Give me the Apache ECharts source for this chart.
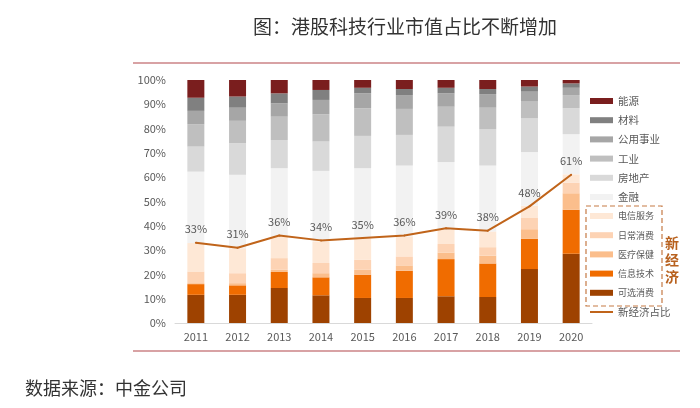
<!DOCTYPE html>
<html>
<head>
<meta charset="utf-8">
<script src="https://cdn.jsdelivr.net/npm/echarts@6/dist/echarts.min.js"></script>
<style>
html, body { margin: 0; padding: 0; background: #fff; }
#container { width: 700px; height: 408px; }
</style>
</head>
<body>
<div id="container"></div>
<script>
// 数据（单位：%）
var years = ['2011', '2012', '2013', '2014', '2015', '2016', '2017', '2018', '2019', '2020'];

// 新经济
var kexuan  = [11.6, 11.6, 14.4, 11.4, 10.3, 10.3, 11.0, 10.7, 22.2, 28.5]; // 可选消费
var xinxi   = [4.4, 3.9, 6.6, 7.4, 9.6, 11.2, 15.3, 13.8, 12.5, 18.1];     // 信息技术
var yiliao  = [0.4, 0.9, 0.9, 1.7, 2.0, 2.2, 2.7, 3.2, 3.9, 6.8];          // 医疗保健
var richang = [4.8, 4.1, 4.8, 4.2, 4.1, 3.7, 3.5, 3.5, 4.6, 4.4];          // 日常消费
var dianxin = [11.7, 10.3, 8.9, 8.9, 8.9, 8.2, 5.9, 6.5, 5.0, 3.4];        // 电信服务

// 传统行业
var jinrong  = [29.4, 30.2, 28.1, 29.0, 28.8, 29.2, 27.8, 27.1, 22.1, 16.5]; // 金融
var fangdc   = [10.3, 13.0, 11.6, 12.1, 13.3, 12.6, 14.6, 14.9, 13.9, 10.7]; // 房地产
var gongye   = [9.2, 9.2, 9.6, 11.2, 11.4, 10.7, 8.2, 8.9, 6.9, 5.4];       // 工业
var gongyong = [5.5, 5.4, 5.5, 5.9, 6.1, 5.7, 5.5, 5.6, 4.1, 3.0];         // 公用事业
var cailiao  = [5.4, 4.6, 4.1, 4.1, 2.3, 2.5, 2.3, 2.1, 2.1, 1.8];         // 材料
var nengyuan = [7.3, 6.8, 5.5, 4.1, 3.2, 3.7, 3.2, 3.7, 2.7, 1.4];         // 能源

// 新经济占比
var xinjingji = [33, 31, 36, 34, 35, 36, 39, 38, 48, 61];

var dom = document.getElementById('container');
var myChart = echarts.init(dom);

var font = '"Noto Sans CJK SC", "Noto Sans", sans-serif';
var lineColor = '#C0641A';

function barSeries(name, data, color) {
    return {
        name: name,
        type: 'bar',
        stack: 'total',
        barWidth: 17,
        itemStyle: { color: color },
        data: data
    };
}

var series = [
    barSeries('可选消费', kexuan, '#9E4200'),
    barSeries('信息技术', xinxi, '#F06C00'),
    barSeries('医疗保健', yiliao, '#FBBE8C'),
    barSeries('日常消费', richang, '#FDD3B4'),
    barSeries('电信服务', dianxin, '#FEE8D6'),
    barSeries('金融', jinrong, '#F2F2F2'),
    barSeries('房地产', fangdc, '#D9D9D9'),
    barSeries('工业', gongye, '#BFBFBF'),
    barSeries('公用事业', gongyong, '#A6A6A6'),
    barSeries('材料', cailiao, '#808080'),
    barSeries('能源', nengyuan, '#7A1E1E'),
    {
        name: '新经济占比',
        type: 'line',
        z: 5,
        symbol: 'circle',
        symbolSize: 2,
        showSymbol: true,
        lineStyle: { color: lineColor, width: 2 },
        itemStyle: { color: lineColor },
        label: {
            show: true,
            position: 'top',
            distance: 7,
            color: '#595959',
            fontSize: 11,
            fontFamily: font,
            formatter: '{c}%'
        },
        labelLayout: { hideOverlap: false },
        data: xinjingji
    }
];

var legendBase = {
    orient: 'vertical',
    left: 590,
    padding: 0,
    itemWidth: 23,
    itemHeight: 6,
    itemGap: 7.2,
    icon: 'rect'
};

var option = {
    animation: false,
    textStyle: { fontFamily: font },
    grid: { left: 175, right: 108, top: 80, bottom: 85 },
    legend: [
        Object.assign({}, legendBase, {
            top: 95,
            textStyle: { color: '#595959', fontSize: 10.5, lineHeight: 12, fontFamily: font },
            data: ['能源', '材料', '公用事业', '工业', '房地产', '金融']
        }),
        Object.assign({}, legendBase, {
            top: 210,
            textStyle: { color: '#595959', fontSize: 9, lineHeight: 12, fontFamily: font },
            data: ['电信服务', '日常消费', '医疗保健', '信息技术', '可选消费']
        }),
        Object.assign({}, legendBase, {
            top: 306,
            itemHeight: 2,
            textStyle: { color: '#595959', fontSize: 10.5, lineHeight: 12, fontFamily: font },
            data: ['新经济占比']
        })
    ],
    xAxis: {
        type: 'category',
        data: years,
        axisTick: { show: false },
        axisLine: { lineStyle: { color: '#D9D9D9' } },
        axisLabel: { color: '#595959', fontSize: 11, margin: 8 }
    },
    yAxis: {
        type: 'value',
        min: 0,
        max: 100,
        interval: 10,
        splitLine: { show: false },
        axisLine: { show: false },
        axisTick: { show: false },
        axisLabel: { color: '#595959', fontSize: 11, margin: 9, formatter: '{value}%' }
    },
    graphic: [
        {
            type: 'text',
            left: 253,
            top: 17,
            style: { text: '图：港股科技行业市值占比不断增加', fill: '#333', font: '19px ' + font }
        },
        {
            type: 'line',
            shape: { x1: 133, y1: 63, x2: 680, y2: 63 },
            style: { stroke: '#D8A2A4', lineWidth: 2 }
        },
        {
            type: 'line',
            shape: { x1: 133, y1: 351, x2: 680, y2: 351 },
            style: { stroke: '#D8A2A4', lineWidth: 2 }
        },
        {
            type: 'rect',
            shape: { x: 586, y: 206, width: 76, height: 100 },
            style: { fill: 'none', stroke: '#C57A45', lineWidth: 1.2, lineDash: [5, 3] }
        },
        {
            type: 'text',
            left: 665,
            top: 234,
            style: { text: '新\n经\n济', fill: '#B8611E', font: 'bold 14px ' + font, lineHeight: 17 }
        },
        {
            type: 'text',
            left: 25,
            top: 379,
            style: { text: '数据来源：中金公司', fill: '#333', font: '18px ' + font }
        }
    ],
    series: series
};

myChart.setOption(option);
</script>
</body>
</html>
